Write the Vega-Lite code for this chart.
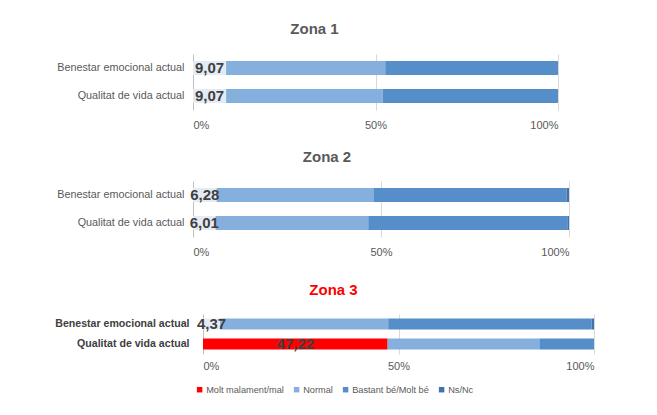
{
  "$schema": "https://vega.github.io/schema/vega-lite/v6.json",
  "background": "white",
  "padding": {"left": 54, "top": 22, "right": 10, "bottom": 5},
  "config": {
    "font": "Liberation Sans",
    "view": {"stroke": null},
    "locale": {"number": {"decimal": ",", "thousands": ".", "grouping": [3], "currency": ["", " €"]}}
  },
  "data": {
    "values": [
      {"zona": "Zona 1", "item": "Benestar emocional actual", "cat": "Molt malament/mal", "pct": 9.07},
      {"zona": "Zona 1", "item": "Benestar emocional actual", "cat": "Normal", "pct": 43.6},
      {"zona": "Zona 1", "item": "Benestar emocional actual", "cat": "Bastant bé/Molt bé", "pct": 47.33},
      {"zona": "Zona 1", "item": "Benestar emocional actual", "cat": "Ns/Nc", "pct": 0},
      {"zona": "Zona 1", "item": "Qualitat de vida actual", "cat": "Molt malament/mal", "pct": 9.07},
      {"zona": "Zona 1", "item": "Qualitat de vida actual", "cat": "Normal", "pct": 42.9},
      {"zona": "Zona 1", "item": "Qualitat de vida actual", "cat": "Bastant bé/Molt bé", "pct": 48.03},
      {"zona": "Zona 1", "item": "Qualitat de vida actual", "cat": "Ns/Nc", "pct": 0},
      {"zona": "Zona 2", "item": "Benestar emocional actual", "cat": "Molt malament/mal", "pct": 6.28},
      {"zona": "Zona 2", "item": "Benestar emocional actual", "cat": "Normal", "pct": 41.7},
      {"zona": "Zona 2", "item": "Benestar emocional actual", "cat": "Bastant bé/Molt bé", "pct": 51.42},
      {"zona": "Zona 2", "item": "Benestar emocional actual", "cat": "Ns/Nc", "pct": 0.6},
      {"zona": "Zona 2", "item": "Qualitat de vida actual", "cat": "Molt malament/mal", "pct": 6.01},
      {"zona": "Zona 2", "item": "Qualitat de vida actual", "cat": "Normal", "pct": 40.6},
      {"zona": "Zona 2", "item": "Qualitat de vida actual", "cat": "Bastant bé/Molt bé", "pct": 53.09},
      {"zona": "Zona 2", "item": "Qualitat de vida actual", "cat": "Ns/Nc", "pct": 0.3},
      {"zona": "Zona 3", "item": "Benestar emocional actual", "cat": "Molt malament/mal", "pct": 4.37},
      {"zona": "Zona 3", "item": "Benestar emocional actual", "cat": "Normal", "pct": 43.0},
      {"zona": "Zona 3", "item": "Benestar emocional actual", "cat": "Bastant bé/Molt bé", "pct": 52.03},
      {"zona": "Zona 3", "item": "Benestar emocional actual", "cat": "Ns/Nc", "pct": 0.6},
      {"zona": "Zona 3", "item": "Qualitat de vida actual", "cat": "Molt malament/mal", "pct": 47.22},
      {"zona": "Zona 3", "item": "Qualitat de vida actual", "cat": "Normal", "pct": 38.8},
      {"zona": "Zona 3", "item": "Qualitat de vida actual", "cat": "Bastant bé/Molt bé", "pct": 13.98},
      {"zona": "Zona 3", "item": "Qualitat de vida actual", "cat": "Ns/Nc", "pct": 0}
    ]
  },
  "spacing": 26,
  "vconcat": [
    {
      "spacing": 20,
      "vconcat": [
        {
          "title": {"text": "Zona 1", "fontSize": 15, "fontWeight": "bold", "color": "#595959", "frame": "group", "anchor": "middle", "offset": 17, "dx": -61},
          "width": 365,
          "height": 56,
          "transform": [{"filter": "datum.zona === 'Zona 1'"}],
          "resolve": {"scale": {"x": "independent"}},
          "layer": [
            {
              "transform": [{"calculate": "indexof(['Molt malament/mal','Normal','Bastant bé/Molt bé','Ns/Nc'], datum.cat)", "as": "ordre"}],
              "mark": {"type": "bar"},
              "encoding": {
                "y": {"field": "item", "type": "nominal", "sort": ["Benestar emocional actual", "Qualitat de vida actual"], "scale": {"paddingInner": 0.5, "paddingOuter": 0.25}, "axis": {"title": null, "labelFontSize": 10.8, "labelColor": "#595959", "ticks": false, "domain": false, "labelPadding": 9}},
                "x": {"field": "pct", "type": "quantitative", "stack": "zero", "scale": {"domain": [0, 100], "nice": false}, "axis": {"title": null, "values": [0, 50, 100], "labelExpr": "datum.value + '%'", "grid": true, "gridColor": {"condition": {"test": "datum.value === 0", "value": "#bfbfbf"}, "value": "#d9d9d9"}, "domain": false, "ticks": false, "labelFontSize": 11, "labelColor": "#595959", "labelPadding": 9}},
                "order": {"field": "ordre", "type": "quantitative"},
                "color": {
                  "field": "cat", "type": "nominal",
                  "scale": {"domain": ["Molt malament/mal", "Normal", "Bastant bé/Molt bé", "Ns/Nc"], "range": ["#ff0000", "#85b0dd", "#558ec8", "#4272a8"]},
                  "condition": {"test": "datum.cat === 'Molt malament/mal' && datum.pct < 20", "value": "#e4ebf4"},
                  "legend": {"title": null, "orient": "none", "legendX": 2, "legendY": 331, "direction": "horizontal", "symbolType": "square", "symbolSize": 30, "symbolStrokeWidth": 0, "labelFontSize": 9.2, "labelColor": "#595959", "columnPadding": 8, "labelOffset": 2}
                }
              }
            },
            {
              "transform": [{"filter": "datum.cat === 'Molt malament/mal'"}],
              "mark": {"type": "text", "fontSize": 15, "fontWeight": "bold", "color": "#404040"},
              "encoding": {
                "y": {"field": "item", "type": "nominal", "sort": ["Benestar emocional actual", "Qualitat de vida actual"]},
                "x": {"field": "pct", "type": "quantitative", "scale": {"domain": [0, 200], "nice": false}, "axis": null},
                "text": {"field": "pct", "type": "quantitative", "format": ".2f"}
              }
            }
          ]
        },
        {
          "title": {"text": "Zona 2", "fontSize": 15, "fontWeight": "bold", "color": "#595959", "frame": "group", "anchor": "middle", "offset": 16, "dx": -54},
          "width": 376,
          "height": 56,
          "transform": [{"filter": "datum.zona === 'Zona 2'"}],
          "resolve": {"scale": {"x": "independent"}},
          "layer": [
            {
              "transform": [{"calculate": "indexof(['Molt malament/mal','Normal','Bastant bé/Molt bé','Ns/Nc'], datum.cat)", "as": "ordre"}],
              "mark": {"type": "bar"},
              "encoding": {
                "y": {"field": "item", "type": "nominal", "sort": ["Benestar emocional actual", "Qualitat de vida actual"], "scale": {"paddingInner": 0.5, "paddingOuter": 0.25}, "axis": {"title": null, "labelFontSize": 10.8, "labelColor": "#595959", "ticks": false, "domain": false, "labelPadding": 9}},
                "x": {"field": "pct", "type": "quantitative", "stack": "zero", "scale": {"domain": [0, 100], "nice": false}, "axis": {"title": null, "values": [0, 50, 100], "labelExpr": "datum.value + '%'", "grid": true, "gridColor": {"condition": {"test": "datum.value === 0", "value": "#bfbfbf"}, "value": "#d9d9d9"}, "domain": false, "ticks": false, "labelFontSize": 11, "labelColor": "#595959", "labelPadding": 9}},
                "order": {"field": "ordre", "type": "quantitative"},
                "color": {
                  "field": "cat", "type": "nominal",
                  "scale": {"domain": ["Molt malament/mal", "Normal", "Bastant bé/Molt bé", "Ns/Nc"], "range": ["#ff0000", "#85b0dd", "#558ec8", "#4272a8"]},
                  "condition": {"test": "datum.cat === 'Molt malament/mal' && datum.pct < 20", "value": "#e4ebf4"},
                  "legend": {"title": null, "orient": "none", "legendX": 2, "legendY": 331, "direction": "horizontal", "symbolType": "square", "symbolSize": 30, "symbolStrokeWidth": 0, "labelFontSize": 9.2, "labelColor": "#595959", "columnPadding": 8, "labelOffset": 2}
                }
              }
            },
            {
              "transform": [{"filter": "datum.cat === 'Molt malament/mal'"}],
              "mark": {"type": "text", "fontSize": 15, "fontWeight": "bold", "color": "#404040"},
              "encoding": {
                "y": {"field": "item", "type": "nominal", "sort": ["Benestar emocional actual", "Qualitat de vida actual"]},
                "x": {"field": "pct", "type": "quantitative", "scale": {"domain": [0, 200], "nice": false}, "axis": null},
                "text": {"field": "pct", "type": "quantitative", "format": ".2f"}
              }
            }
          ]
        }
      ]
    },
    {
      "title": {"text": "Zona 3", "fontSize": 15, "fontWeight": "bold", "color": "#ff0000", "frame": "group", "anchor": "middle", "offset": 16, "dx": -60},
      "width": 401,
      "height": 40,
      "transform": [{"filter": "datum.zona === 'Zona 3'"}],
      "resolve": {"scale": {"x": "independent"}},
      "layer": [
        {
          "transform": [{"calculate": "indexof(['Molt malament/mal','Normal','Bastant bé/Molt bé','Ns/Nc'], datum.cat)", "as": "ordre"}],
          "mark": {"type": "bar"},
          "encoding": {
            "y": {"field": "item", "type": "nominal", "sort": ["Benestar emocional actual", "Qualitat de vida actual"], "scale": {"paddingInner": 0.45, "paddingOuter": 0.225}, "axis": {"title": null, "labelFontSize": 10.6, "labelFontWeight": "bold", "labelColor": "#404040", "ticks": false, "domain": false, "labelPadding": 4}},
            "x": {"field": "pct", "type": "quantitative", "stack": "zero", "scale": {"domain": [0, 100], "nice": false, "range": [10, 401]}, "axis": {"title": null, "values": [0, 50, 100], "labelExpr": "datum.value + '%'", "grid": true, "gridColor": {"condition": {"test": "datum.value === 0", "value": "#bfbfbf"}, "value": "#d9d9d9"}, "domain": false, "ticks": false, "labelFontSize": 11, "labelColor": "#595959", "labelPadding": 6}},
            "order": {"field": "ordre", "type": "quantitative"},
            "color": {
              "field": "cat", "type": "nominal",
              "scale": {"domain": ["Molt malament/mal", "Normal", "Bastant bé/Molt bé", "Ns/Nc"], "range": ["#ff0000", "#85b0dd", "#558ec8", "#4272a8"]},
              "condition": {"test": "datum.cat === 'Molt malament/mal' && datum.pct < 20", "value": "#e4ebf4"},
              "legend": {"title": null, "orient": "none", "legendX": 2, "legendY": 331, "direction": "horizontal", "symbolType": "square", "symbolSize": 30, "symbolStrokeWidth": 0, "labelFontSize": 9.2, "labelColor": "#595959", "columnPadding": 8, "labelOffset": 2}
            }
          }
        },
        {
          "transform": [{"filter": "datum.cat === 'Molt malament/mal'"}],
          "mark": {"type": "text", "fontSize": 15, "fontWeight": "bold", "color": "#404040"},
          "encoding": {
            "y": {"field": "item", "type": "nominal", "sort": ["Benestar emocional actual", "Qualitat de vida actual"]},
            "x": {"field": "pct", "type": "quantitative", "scale": {"domain": [0, 200], "nice": false, "range": [10, 401]}, "axis": null},
            "text": {"field": "pct", "type": "quantitative", "format": ".2f"}
          }
        }
      ]
    }
  ]
}
